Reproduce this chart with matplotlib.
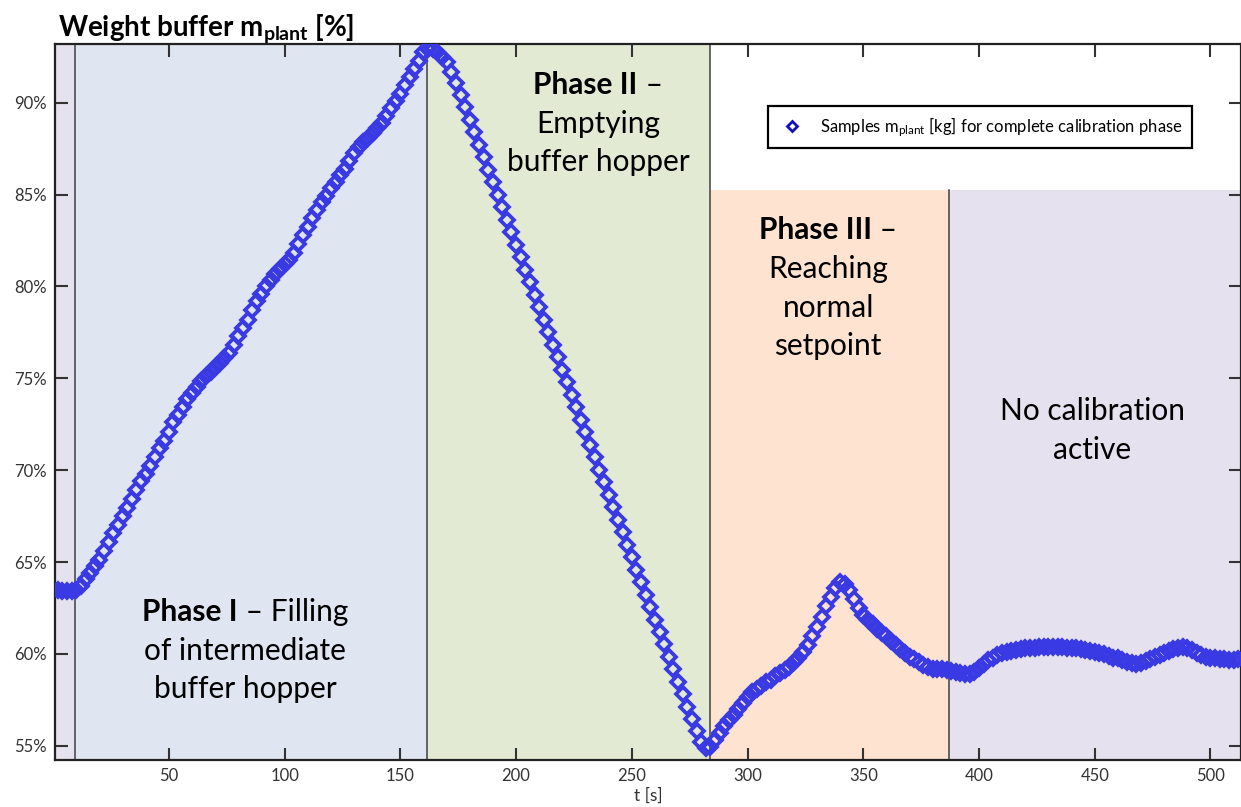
import numpy as np
import matplotlib
matplotlib.use("Agg")
import matplotlib.pyplot as plt
from matplotlib.transforms import offset_copy

# fonts
plt.rcParams['font.family'] = ['Lato', 'DejaVu Sans']
plt.rcParams['mathtext.fontset'] = 'custom'
plt.rcParams['mathtext.rm'] = 'Lato'
plt.rcParams['mathtext.bf'] = 'Lato:bold'
plt.rcParams['mathtext.it'] = 'Lato:italic'

# data: weight buffer samples, one every 2 s
t = np.arange(0, 513, 2)
m_plant = [
    63.5, 63.45, 63.4, 63.4, 63.4, 63.45, 63.7, 64.05, 64.4, 64.8,
    65.1, 65.6, 66.1, 66.6, 67.0, 67.5, 67.95, 68.45, 68.9, 69.4,
    69.8, 70.2, 70.7, 71.2, 71.6, 72.1, 72.6, 73.0, 73.45, 73.85,
    74.2, 74.55, 74.85, 75.1, 75.35, 75.6, 75.85, 76.1, 76.4, 76.8,
    77.3, 77.75, 78.2, 78.7, 79.2, 79.6, 80.0, 80.35, 80.7, 80.95,
    81.2, 81.45, 81.8, 82.3, 82.8, 83.25, 83.7, 84.15, 84.6, 84.95,
    85.35, 85.7, 86.05, 86.4, 86.85, 87.25, 87.6, 87.85, 88.1, 88.35,
    88.6, 88.9, 89.3, 89.7, 90.1, 90.5, 90.95, 91.4, 91.85, 92.3,
    92.75, 92.95, 92.95, 92.75, 92.5, 92.2, 91.7, 91.1, 90.4, 89.75,
    89.07, 88.39, 87.71, 87.03, 86.35, 85.67, 84.99, 84.31, 83.63, 82.95,
    82.27, 81.59, 80.91, 80.23, 79.55, 78.87, 78.19, 77.51, 76.83, 76.15,
    75.47, 74.79, 74.11, 73.43, 72.75, 72.07, 71.39, 70.71, 70.03, 69.35,
    68.67, 67.99, 67.31, 66.63, 65.95, 65.27, 64.59, 63.91, 63.23, 62.55,
    61.87, 61.19, 60.51, 59.83, 59.15, 58.47, 57.79, 57.11, 56.43, 55.8,
    55.2, 54.85, 54.95, 55.3, 55.7, 56.05, 56.4, 56.65, 57.0, 57.35,
    57.65, 57.9, 58.1, 58.25, 58.45, 58.6, 58.8, 58.95, 59.1, 59.3,
    59.55, 59.8, 60.1, 60.5, 60.95, 61.45, 62.0, 62.6, 63.1, 63.6,
    63.9, 63.8, 63.45, 63.0, 62.5, 62.1, 61.85, 61.6, 61.35, 61.15,
    60.95, 60.7, 60.5, 60.25, 60.05, 59.85, 59.7, 59.55, 59.4, 59.3,
    59.2, 59.15, 59.15, 59.1, 59.05, 59.0, 58.95, 58.9, 58.9, 59.0,
    59.25, 59.45, 59.65, 59.8, 59.95, 60.05, 60.1, 60.15, 60.2, 60.25,
    60.3, 60.3, 60.3, 60.35, 60.35, 60.35, 60.35, 60.35, 60.35, 60.3,
    60.3, 60.3, 60.25, 60.2, 60.15, 60.1, 60.05, 60.0, 59.9, 59.8,
    59.75, 59.65, 59.55, 59.5, 59.45, 59.5, 59.6, 59.7, 59.85, 59.95,
    60.05, 60.15, 60.25, 60.3, 60.35, 60.3, 60.2, 60.05, 59.95, 59.85,
    59.8, 59.75, 59.7, 59.7, 59.65, 59.65, 59.7,
]

# phase boundaries [s] and upper edge of the lower phase boxes [%]
phase_edges = [0, 9.4, 161.5, 283.7, 386.9, 515]
box_top = 85.25
xlim = (0.8, 513.2)
ylim = (54.22, 93.2)

fig = plt.figure(figsize=(12.41, 8.07), dpi=100)
ax = fig.add_axes([0.0443, 0.0582, 0.9557, 0.8873])

# background of the phases
ax.axvspan(phase_edges[0], phase_edges[1], color='#e6e1ee', zorder=0, lw=0)
ax.axvspan(phase_edges[1], phase_edges[2], color='#dfe6f1', zorder=0, lw=0)
ax.axvspan(phase_edges[2], phase_edges[3], color='#e3ead4', zorder=0, lw=0)
ax.fill_between([phase_edges[3], phase_edges[4]], ylim[0], box_top, color='#fde3d0', zorder=0, lw=0)
ax.fill_between([phase_edges[4], phase_edges[5]], ylim[0], box_top, color='#e6e1ee', zorder=0, lw=0)
for x in phase_edges[1:4]:
    ax.axvline(x, color='#404040', lw=1.1, zorder=1)
ax.plot([phase_edges[4], phase_edges[4]], [ylim[0], box_top], color='#404040', lw=1.1, zorder=1)

# samples
ax.plot(t, m_plant, ls='none', marker='D', ms=7.5, mfc='none', mec='#3a3ae4', mew=2.7,
        zorder=3, label='Samples m$_{\\mathrm{plant}}$ [kg] for complete calibration phase')

ax.set_xlim(*xlim)
ax.set_ylim(*ylim)
ax.set_xticks(np.arange(50, 501, 50))
ax.set_yticks(np.arange(55, 91, 5))
ax.set_yticklabels([f'{v}%' for v in range(55, 91, 5)])
ax.tick_params(direction='in', length=9, width=1.5, labelsize=12, colors='#333333',
               top=True, right=True, pad=6)
for s in ax.spines.values():
    s.set_linewidth(1.6)
    s.set_color('#222222')
ax.set_xlabel('t [s]', fontsize=12.5, labelpad=2, color='#333333')

fig.text(0.047, 0.956, 'Weight buffer m$_{\\mathbf{plant}}$ [%]', fontsize=20,
         fontweight='bold', va='baseline', ha='left')

leg = ax.legend(loc='upper left', bbox_to_anchor=(0.594, 0.925), fontsize=12,
                fancybox=False, framealpha=1, edgecolor='black', markerscale=0.7,
                handlelength=1.8, borderpad=0.55)
leg.get_frame().set_linewidth(1.6)
leg.legend_handles[0].set_markeredgecolor('#1010c0')
leg.legend_handles[0].set_markeredgewidth(2.0)


def mixed_line(x, y, parts, size=20):
    r = fig.canvas.get_renderer()
    texts = [ax.text(x, y, s, fontsize=size, fontweight=w, ha='left', va='center', zorder=4)
             for s, w in parts]
    widths = [tx.get_window_extent(r).width for tx in texts]
    off = -sum(widths) / 2
    for tx, w in zip(texts, widths):
        tx.set_transform(offset_copy(ax.transData, fig=fig, x=off * 72 / fig.dpi, y=0, units='points'))
        off += w


def block(x, yc, lines, gap=2.1, size=21.5):
    n = len(lines)
    for i, parts in enumerate(lines):
        mixed_line(x, yc + (n - 1) / 2 * gap - i * gap, parts, size)


block(83, 60.17, [[('Phase I', 'bold'), (' \u2013 Filling', 'normal')],
                  [('of intermediate', 'normal')],
                  [('buffer hopper', 'normal')]])
block(235.4, 88.85, [[('Phase II', 'bold'), (' \u2013', 'normal')],
                     [('Emptying', 'normal')],
                     [('buffer hopper', 'normal')]])
block(334.8, 79.9, [[('Phase III', 'bold'), (' \u2013', 'normal')],
                    [('Reaching', 'normal')],
                    [('normal', 'normal')],
                    [('setpoint', 'normal')]])
block(449, 72.15, [[('No calibration', 'normal')],
                   [('active', 'normal')]])

fig.savefig('out.png', dpi=100)
